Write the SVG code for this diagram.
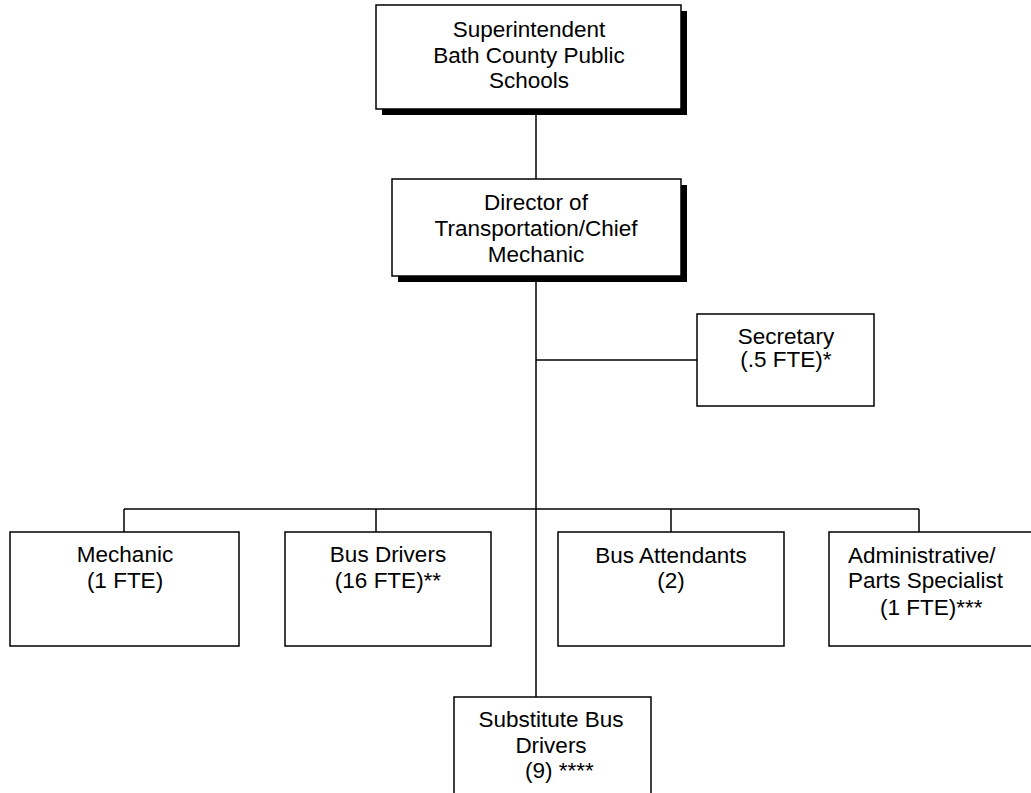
<svg xmlns="http://www.w3.org/2000/svg" width="1031" height="793" viewBox="0 0 1031 793">
<style>
.box{fill:#fff;stroke:#000;stroke-width:1.5}
.shadow{fill:#000}
.t{font-family:"Liberation Sans",Arial,sans-serif;font-size:22.5px;fill:#000;text-anchor:middle}
.s{text-anchor:start}
.c{stroke:#000;stroke-width:1.5;fill:none}
</style>
<rect width="1031" height="793" fill="#fff"/>
<g id="connectors">
<path class="c" d="M536,109V179"/>
<path class="c" d="M536,276V697"/>
<path class="c" d="M536,360H697"/>
<path class="c" d="M124,509H919"/>
<path class="c" d="M124,509V532M376,509V532M671,509V532M919,509V532"/>
</g>
<g id="superintendent">
<rect class="shadow" x="382" y="11" width="305" height="104"/>
<rect class="box" x="376" y="5" width="305" height="104"/>
<text class="t" x="529" y="37">Superintendent</text>
<text class="t" x="529" y="63">Bath County Public</text>
<text class="t" x="529" y="88">Schools</text>
</g>
<g id="director">
<rect class="shadow" x="398" y="185" width="289" height="97"/>
<rect class="box" x="392" y="179" width="289" height="97"/>
<text class="t" x="536" y="210">Director of</text>
<text class="t" x="536" y="236">Transportation/Chief</text>
<text class="t" x="536" y="262">Mechanic</text>
</g>
<g id="secretary">
<rect class="box" x="697" y="314" width="177" height="92"/>
<text class="t" x="786" y="344">Secretary</text>
<text class="t" x="786" y="367">(.5 FTE)*</text>
</g>
<g id="mechanic">
<rect class="box" x="10" y="532" width="229" height="114"/>
<text class="t" x="125" y="562">Mechanic</text>
<text class="t" x="125" y="588">(1 FTE)</text>
</g>
<g id="bus-drivers">
<rect class="box" x="285" y="532" width="206" height="114"/>
<text class="t" x="388" y="562">Bus Drivers</text>
<text class="t" x="388" y="588">(16 FTE)**</text>
</g>
<g id="bus-attendants">
<rect class="box" x="558" y="532" width="226" height="114"/>
<text class="t" x="671" y="563">Bus Attendants</text>
<text class="t" x="671" y="588">(2)</text>
</g>
<g id="admin-parts">
<rect class="box" x="829" y="532" width="215" height="114"/>
<text class="t s" x="848" y="563">Administrative/</text>
<text class="t s" x="848" y="588">Parts Specialist</text>
<text class="t s" x="880" y="615">(1 FTE)***</text>
</g>
<g id="substitute">
<rect class="box" x="454" y="697" width="197" height="110"/>
<text class="t" x="551" y="727">Substitute Bus</text>
<text class="t" x="551" y="753">Drivers</text>
<text class="t s" x="525" y="778">(9) ****</text>
</g>
</svg>
